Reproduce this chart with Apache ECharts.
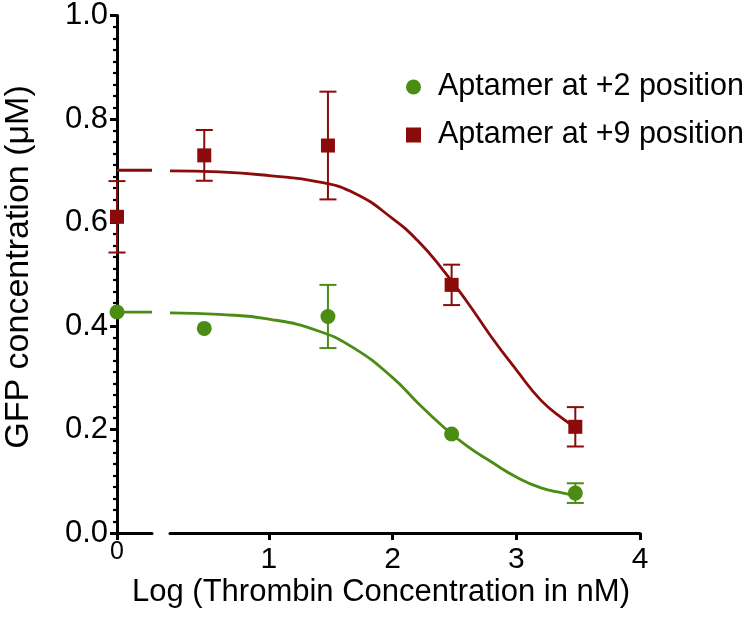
<!DOCTYPE html>
<html><head><meta charset="utf-8">
<script src="https://cdn.jsdelivr.net/npm/echarts@6/dist/echarts.min.js"></script>
<style>html,body{margin:0;padding:0;background:#fff}#c{width:750px;height:622px}</style>
</head><body><div id="c"></div>
<script>
// Measured points: x = log10(thrombin nM); x = 0 is the zero-concentration point (left of the axis break)
const pointX   = [0, 0.477, 1.477, 2.477, 3.477];
const greenMean = [0.427, 0.395, 0.418, 0.191, 0.077];
const greenErr  = [0, 0, 0.061, 0, 0.019];
const redMean   = [0.611, 0.729, 0.748, 0.479, 0.205];
const redErr    = [0.069, 0.049, 0.104, 0.039, 0.038];

// Fitted curves (right segment of the broken axis)
const curveX     = [0.2, 0.6, 1.0, 1.4, 1.7, 2.0, 2.2, 2.4, 2.6, 2.8, 3.0, 3.2, 3.38, 3.477];
const redCurve   = [0.699, 0.697, 0.690, 0.678, 0.655, 0.607, 0.565, 0.510, 0.447, 0.378, 0.315, 0.256, 0.220, 0.205];
const greenCurve = [0.425, 0.422, 0.413, 0.390, 0.355, 0.300, 0.252, 0.207, 0.168, 0.137, 0.108, 0.087, 0.077, 0.072];
// Curve plateau on the left (zero) segment
const leftSegX = [0, 0.284];
const redLeft = [0.701, 0.701];
const greenLeft = [0.427, 0.427];

const xTicks = [1, 2, 3, 4];

const GREEN = '#4a8c14';
const RED = '#8b0a0a';
const FONT = 'Liberation Sans, Arial, sans-serif';
const NAME_G = 'Aptamer at +2 position';
const NAME_R = 'Aptamer at +9 position';

function pts(xs, ys, keepZero) {
  const out = [];
  xs.forEach((x, i) => { if ((x === 0) === keepZero) out.push([x, ys[i]]); });
  return out;
}
function errs(xs, ys, es, keepZero) {
  const out = [];
  xs.forEach((x, i) => { if (es[i] > 0 && (x === 0) === keepZero) out.push([x, ys[i] - es[i], ys[i] + es[i]]); });
  return out;
}
function errSeries(data, color, axisIdx) {
  return {
    type: 'custom', xAxisIndex: axisIdx, yAxisIndex: axisIdx, clip: false, silent: true, z: 3,
    data: data,
    renderItem: function (params, api) {
      const x = api.value(0), lo = api.value(1), hi = api.value(2);
      const a = api.coord([x, hi]), b = api.coord([x, lo]);
      const w = 8.5;
      const st = { stroke: color, lineWidth: 2 };
      return { type: 'group', children: [
        { type: 'line', shape: { x1: a[0], y1: a[1], x2: b[0], y2: b[1] }, style: st },
        { type: 'line', shape: { x1: a[0] - w, y1: a[1], x2: a[0] + w, y2: a[1] }, style: st },
        { type: 'line', shape: { x1: b[0] - w, y1: b[1], x2: b[0] + w, y2: b[1] }, style: st }
      ]};
    }
  };
}
function zip(xs, ys) { return xs.map((x, i) => [x, ys[i]]); }

const chart = echarts.init(document.getElementById('c'), null, { renderer: 'canvas' });
const capLine = (x) => ({
  silent: true, symbol: 'none', label: { show: false },
  lineStyle: { color: '#000', width: 3, type: 'solid' },
  data: [[{ coord: [x, -0.0105] }, { coord: [x, 0.0105] }]]
});

chart.setOption({
  animation: false,
  backgroundColor: '#fff',
  grid: [
    { left: 117, width: 35, top: 15, bottom: 89 },
    { left: 170, right: 110, top: 15, bottom: 89 }
  ],
  xAxis: [
    { type: 'value', gridIndex: 0, min: 0, max: 0.284,
      axisLine: { show: true, lineStyle: { color: '#000', width: 3 } },
      axisTick: { show: true, length: 7, lineStyle: { color: '#000', width: 3 }, customValues: [0] },
      axisLabel: { show: true, customValues: [0], formatter: v => String(v), color: '#000', fontSize: 25, fontFamily: FONT, margin: 7 },
      splitLine: { show: false } },
    { type: 'value', gridIndex: 1, min: 0.2, max: 4,
      axisLine: { show: true, lineStyle: { color: '#000', width: 3 } },
      axisTick: { show: true, length: 7, lineStyle: { color: '#000', width: 3 }, customValues: xTicks },
      axisLabel: { show: true, customValues: xTicks, formatter: v => String(v), color: '#000', fontSize: 30, fontFamily: FONT, margin: 12 },
      splitLine: { show: false } }
  ],
  yAxis: [
    { type: 'value', gridIndex: 0, min: 0, max: 1, interval: 0.2,
      axisLine: { show: true, lineStyle: { color: '#000', width: 3 } },
      axisTick: { show: true, length: 7, lineStyle: { color: '#000', width: 3 } },
      minorTick: { show: true, splitNumber: 9, length: 4, lineStyle: { color: '#000', width: 2.2 } },
      axisLabel: { color: '#000', fontSize: 31, fontFamily: FONT, margin: 9, formatter: v => v.toFixed(1) },
      splitLine: { show: false }, minorSplitLine: { show: false } },
    { type: 'value', gridIndex: 1, min: 0, max: 1, interval: 0.2, show: false, splitLine: { show: false } }
  ],
  legend: {
    orient: 'vertical', left: 401, top: 65, itemWidth: 15, itemHeight: 15, itemGap: 14,
    textStyle: { fontSize: 30.5, fontFamily: FONT, color: '#000', lineHeight: 34, padding: [0, 0, 0, 12] },
    data: [{ name: NAME_G, icon: 'circle' }, { name: NAME_R, icon: 'rect' }],
    selectedMode: false
  },
  graphic: [
    { type: 'text', x: 381, y: 592, style: { text: 'Log (Thrombin Concentration in nM)', fontSize: 31, fontFamily: FONT, fill: '#000', textAlign: 'center', textVerticalAlign: 'middle' } },
    { type: 'text', x: 19, y: 267, rotation: Math.PI / 2, style: { text: 'GFP concentration (μM)', fontSize: 34, fontFamily: FONT, fill: '#000', textAlign: 'center', textVerticalAlign: 'middle' } }
  ],
  series: [
    // curves
    { type: 'line', name: NAME_R, xAxisIndex: 0, yAxisIndex: 0, data: zip(leftSegX, redLeft), showSymbol: false, clip: false,
      lineStyle: { color: RED, width: 2.8 }, itemStyle: { color: RED }, silent: true, markLine: capLine(0.284) },
    { type: 'line', name: NAME_G, xAxisIndex: 0, yAxisIndex: 0, data: zip(leftSegX, greenLeft), showSymbol: false, clip: false,
      lineStyle: { color: GREEN, width: 2.8 }, itemStyle: { color: GREEN }, silent: true },
    { type: 'line', name: NAME_R, xAxisIndex: 1, yAxisIndex: 1, data: zip(curveX, redCurve), showSymbol: false, smooth: 0.5, clip: false,
      lineStyle: { color: RED, width: 2.8 }, itemStyle: { color: RED }, silent: true, markLine: capLine(0.2) },
    { type: 'line', name: NAME_G, xAxisIndex: 1, yAxisIndex: 1, data: zip(curveX, greenCurve), showSymbol: false, smooth: 0.5, clip: false,
      lineStyle: { color: GREEN, width: 2.8 }, itemStyle: { color: GREEN }, silent: true },
    // error bars
    errSeries(errs(pointX, redMean, redErr, true), RED, 0),
    errSeries(errs(pointX, redMean, redErr, false), RED, 1),
    errSeries(errs(pointX, greenMean, greenErr, true), GREEN, 0),
    errSeries(errs(pointX, greenMean, greenErr, false), GREEN, 1),
    // markers
    { type: 'scatter', name: NAME_G, xAxisIndex: 0, yAxisIndex: 0, data: pts(pointX, greenMean, true), symbol: 'circle', symbolSize: 15, itemStyle: { color: GREEN, opacity: 1 }, clip: false, z: 5 },
    { type: 'scatter', name: NAME_G, xAxisIndex: 1, yAxisIndex: 1, data: pts(pointX, greenMean, false), symbol: 'circle', symbolSize: 15, itemStyle: { color: GREEN, opacity: 1 }, clip: false, z: 5 },
    { type: 'scatter', name: NAME_R, xAxisIndex: 0, yAxisIndex: 0, data: pts(pointX, redMean, true), symbol: 'rect', symbolSize: 14, itemStyle: { color: RED, opacity: 1 }, clip: false, z: 5 },
    { type: 'scatter', name: NAME_R, xAxisIndex: 1, yAxisIndex: 1, data: pts(pointX, redMean, false), symbol: 'rect', symbolSize: 14, itemStyle: { color: RED, opacity: 1 }, clip: false, z: 5 }
  ]
});
</script>
</body></html>
